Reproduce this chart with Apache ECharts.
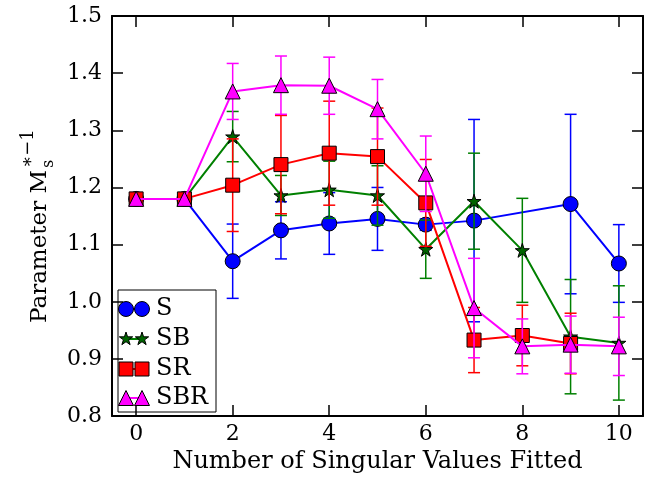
<!DOCTYPE html>
<html>
<head>
<meta charset="utf-8">
<script src="https://cdn.jsdelivr.net/npm/echarts@6/dist/echarts.min.js"></script>
<style>
  html, body { margin: 0; padding: 0; background: #fff; }
  #chart { width: 648px; height: 479px; }
</style>
</head>
<body>
<div id="chart"></div>
<script>
// Number of singular values fitted (x positions)
const nFitted = [0, 1, 2, 3, 4, 5, 6, 7, 8, 9, 10];

// Fitted parameter values per model variant (null = no point)
const sVals   = [1.180, 1.180, 1.071, 1.125, 1.137, 1.145, 1.135, 1.142, null, 1.171, 1.067];
const sErr    = [0, 0, 0.065, 0.050, 0.054, 0.055, 0.010, 0.177, null, 0.157, 0.068];

const sbVals  = [1.180, 1.180, 1.289, 1.186, 1.196, 1.186, 1.092, 1.176, 1.090, 0.939, 0.928];
const sbErr   = [0, 0, 0.044, 0.035, 0.050, 0.052, 0.051, 0.084, 0.091, 0.100, 0.100];

const srVals  = [1.180, 1.180, 1.204, 1.240, 1.260, 1.254, 1.173, 0.933, 0.941, 0.927, null];
const srErr   = [0, 0, 0.081, 0.086, 0.091, 0.085, 0.076, 0.057, 0.053, 0.053, null];

const sbrVals = [1.180, 1.180, 1.368, 1.379, 1.378, 1.337, 1.224, 0.989, 0.922, 0.925, 0.922];
const sbrErr  = [0, 0, 0.049, 0.051, 0.050, 0.052, 0.066, 0.087, 0.048, 0.050, 0.051];

// Axis ticks
const xTicks = [0, 2, 4, 6, 8, 10];
const yTicks = [0.8, 0.9, 1.0, 1.1, 1.2, 1.3, 1.4, 1.5];

const FONT = 'DejaVu Serif';

// five-pointed star as an SVG path (unit box)
function starPath() {
  const pts = [];
  for (let k = 0; k < 10; k++) {
    const r = (k % 2 === 0) ? 1 : 0.382;
    const a = -Math.PI / 2 + k * Math.PI / 5;
    pts.push([(Math.cos(a) * r).toFixed(4), (Math.sin(a) * r).toFixed(4)]);
  }
  return 'path://M' + pts.map(p => p.join(' ')).join(' L') + ' Z';
}
const STAR = starPath();

const models = [
  { name: 'S',   vals: sVals,   err: sErr,   color: '#0000ff', fill: '#0000ff', symbol: 'circle',   size: 15 },
  { name: 'SB',  vals: sbVals,  err: sbErr,  color: '#008000', fill: '#006400', symbol: STAR,       size: 14 },
  { name: 'SR',  vals: srVals,  err: srErr,  color: '#ff0000', fill: '#ff0000', symbol: 'rect',     size: 14 },
  { name: 'SBR', vals: sbrVals, err: sbrErr, color: '#ff00ff', fill: '#ff00ff', symbol: 'triangle', size: 15 }
];

function errorBarSeries(m, z) {
  const data = [];
  nFitted.forEach((x, i) => {
    if (m.vals[i] == null || !m.err[i]) return;
    data.push([x, m.vals[i] - m.err[i], m.vals[i] + m.err[i]]);
  });
  return {
    type: 'custom',
    name: m.name + ' err',
    z: z,
    silent: true,
    data: data,
    encode: { x: 0, y: [1, 2] },
    renderItem: function (params, api) {
      const x = api.value(0);
      const lo = api.coord([x, api.value(1)]);
      const hi = api.coord([x, api.value(2)]);
      const cap = 6;
      const st = { stroke: m.color, lineWidth: 1.5 };
      return {
        type: 'group',
        children: [
          { type: 'line', shape: { x1: lo[0], y1: lo[1], x2: hi[0], y2: hi[1] }, style: st },
          { type: 'line', shape: { x1: lo[0] - cap, y1: lo[1], x2: lo[0] + cap, y2: lo[1] }, style: st },
          { type: 'line', shape: { x1: hi[0] - cap, y1: hi[1], x2: hi[0] + cap, y2: hi[1] }, style: st }
        ]
      };
    }
  };
}

function lineSeries(m, z) {
  const data = [];
  nFitted.forEach((x, i) => { if (m.vals[i] != null) data.push([x, m.vals[i]]); });
  return {
    type: 'line',
    name: m.name,
    z: z,
    data: data,
    symbol: m.symbol,
    symbolSize: m.size,
    showAllSymbol: true,
    lineStyle: { color: m.color, width: 2 },
    itemStyle: { color: m.fill, borderColor: '#000', borderWidth: 1 },
    emphasis: { disabled: true },
    animation: false
  };
}

const series = [];
models.forEach((m, k) => {
  series.push(errorBarSeries(m, 2 + 2 * k));
  series.push(lineSeries(m, 3 + 2 * k));
});

// hand-built legend: two markers joined by a line, then the label
const legendChildren = [
  { type: 'rect', shape: { x: 118, y: 290, width: 98, height: 122 },
    style: { fill: '#fff', stroke: '#000', lineWidth: 1 } }
];
const legendRows = [309, 339, 369, 398];
models.forEach((m, k) => {
  const y = legendRows[k];
  legendChildren.push({ type: 'line', shape: { x1: 126, y1: y, x2: 142, y2: y },
    style: { stroke: m.color, lineWidth: 2 } });
  [126, 142].forEach(cx => {
    let el;
    const st = { fill: m.fill, stroke: '#000', lineWidth: 1 };
    if (m.symbol === 'circle') {
      el = { type: 'circle', shape: { cx: cx, cy: y, r: 7.5 }, style: st };
    } else if (m.symbol === 'rect') {
      el = { type: 'rect', shape: { x: cx - 7, y: y - 7, width: 14, height: 14 }, style: st };
    } else if (m.symbol === 'triangle') {
      el = { type: 'polygon', shape: { points: [[cx, y - 7.5], [cx + 7.5, y + 7.5], [cx - 7.5, y + 7.5]] }, style: st };
    } else {
      const pts = [];
      for (let j = 0; j < 10; j++) {
        const r = (j % 2 === 0) ? 7 : 2.7;
        const a = -Math.PI / 2 + j * Math.PI / 5;
        pts.push([cx + Math.cos(a) * r, y + Math.sin(a) * r]);
      }
      el = { type: 'polygon', shape: { points: pts }, style: st };
    }
    legendChildren.push(el);
  });
  legendChildren.push({ type: 'text', x: 156, y: y,
    style: { text: m.name, font: '24px "' + FONT + '"', fill: '#000', textVerticalAlign: 'middle' } });
});

// rotated y-axis title with sub/superscript
const yTitle = {
  type: 'group',
  x: 40, y: 170,
  rotation: Math.PI / 2,
  children: [
    { type: 'text', x: 0, y: 0,
      style: { text: 'Parameter M', font: '23px "' + FONT + '"', fill: '#000', textAlign: 'right', textVerticalAlign: 'middle' } },
    { type: 'text', x: 2, y: -12,
      style: { text: '∗−1', font: '18px "' + FONT + '"', fill: '#000', textAlign: 'left', textVerticalAlign: 'middle' } },
    { type: 'text', x: 2, y: 9,
      style: { text: 's', font: '16px "' + FONT + '"', fill: '#000', textAlign: 'left', textVerticalAlign: 'middle' } }
  ]
};

const axisCommon = {
  type: 'value',
  axisLine: { show: true, onZero: false, lineStyle: { color: '#000', width: 2 } },
  splitLine: { show: false }
};

const option = {
  animation: false,
  backgroundColor: '#fff',
  grid: { left: 112, right: 5, top: 16, bottom: 61, containLabel: false },
  xAxis: [
    Object.assign({}, axisCommon, {
      position: 'bottom', min: -0.5, max: 10.5,
      axisTick: { show: true, inside: true, length: 11, customValues: xTicks, lineStyle: { color: '#000', width: 1.5 } },
      axisLabel: { show: true, customValues: xTicks, margin: 7, color: '#000', fontFamily: FONT, fontSize: 22,
        formatter: v => String(Math.round(v)) },
      name: 'Number of Singular Values Fitted', nameLocation: 'middle', nameGap: 30,
      nameTextStyle: { color: '#000', fontFamily: FONT, fontSize: 24 }
    }),
    Object.assign({}, axisCommon, {
      position: 'top', min: -0.5, max: 10.5,
      axisTick: { show: true, inside: true, length: 11, customValues: xTicks, lineStyle: { color: '#000', width: 1.5 } },
      axisLabel: { show: false }
    })
  ],
  yAxis: [
    Object.assign({}, axisCommon, {
      position: 'left', min: yTicks[0], max: yTicks[yTicks.length - 1], interval: 0.1,
      axisTick: { show: true, inside: true, length: 11, lineStyle: { color: '#000', width: 1.5 } },
      axisLabel: { show: true, margin: 10, color: '#000', fontFamily: FONT, fontSize: 22,
        formatter: v => v.toFixed(1) }
    }),
    Object.assign({}, axisCommon, {
      position: 'right', min: yTicks[0], max: yTicks[yTicks.length - 1], interval: 0.1,
      axisTick: { show: true, inside: true, length: 11, lineStyle: { color: '#000', width: 1.5 } },
      axisLabel: { show: false }
    })
  ],
  graphic: [yTitle, { type: 'group', z: 100, children: legendChildren }],
  series: series
};

const chart = echarts.init(document.getElementById('chart'), null, { renderer: 'canvas' });
chart.setOption(option);
</script>
</body>
</html>
